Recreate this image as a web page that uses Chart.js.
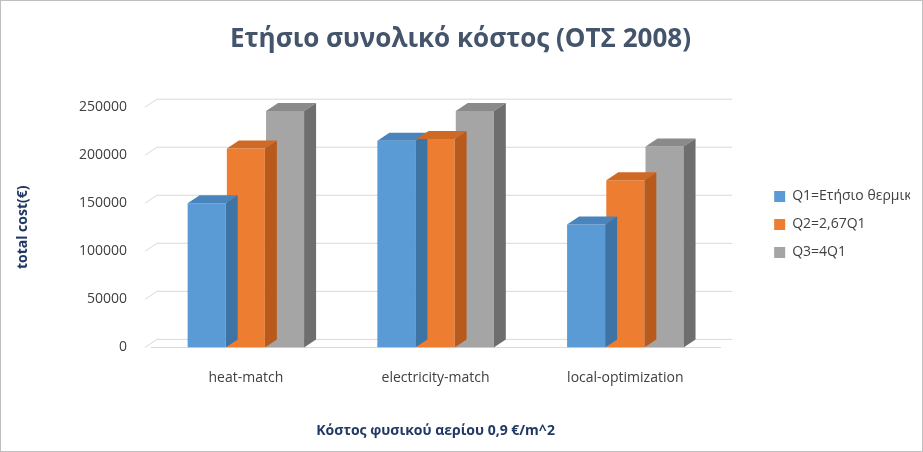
<!DOCTYPE html>
<html><head><meta charset="utf-8">
<script src="https://cdn.jsdelivr.net/npm/chart.js@4/dist/chart.umd.min.js"></script>
<style>html,body{margin:0;padding:0;background:#fff}#w{width:921px;height:450px;border:1px solid #bfbfbf}</style>
</head><body><div id="w"><canvas id="c" width="921" height="450"></canvas></div>
<script>
const categories = ["heat-match","electricity-match","local-optimization"];
const seriesNames = ["Q1=Ετήσιο θερμικο φορτίο","Q2=2,67Q1","Q3=4Q1"];
const q1 = [150000, 215000, 128000];
const q2 = [207000, 217000, 174000];
const q3 = [246000, 246000, 209000];
const colors = ["#5B9BD5","#ED7D31","#A5A5A5"];
const sides = ["#3E73A6","#B85A1C","#6E6E6E"];
const tops = ["#4A84BD","#CF6A26","#8A8A8A"];
const DX=12, DY=-8;
const threeD = {
  id:'threeD',
  beforeDatasetsDraw(chart){
    const {ctx, chartArea:a} = chart;
    ctx.save();
    ctx.strokeStyle='#d9d9d9';ctx.lineWidth=1;
    chart.scales.y.ticks.forEach(t=>{
      const y=chart.scales.y.getPixelForValue(t.value);
      ctx.beginPath();ctx.moveTo(a.left-6,y);ctx.lineTo(a.left+DX-6,y+DY);ctx.lineTo(a.right+DX,y+DY);ctx.stroke();
    });
    ctx.restore();
  },
  afterDatasetsDraw(chart){
    const ctx=chart.ctx;
    chart.data.datasets.forEach((ds,i)=>{
      chart.getDatasetMeta(i).data.forEach(b=>{
        const l=b.x-b.width/2, r=b.x+b.width/2, t=b.y, bt=b.base;
        ctx.fillStyle=tops[i];
        ctx.beginPath();ctx.moveTo(l,t);ctx.lineTo(l+DX,t+DY);ctx.lineTo(r+DX,t+DY);ctx.lineTo(r,t);ctx.closePath();ctx.fill();
        ctx.fillStyle=sides[i];
        ctx.beginPath();ctx.moveTo(r,t);ctx.lineTo(r+DX,t+DY);ctx.lineTo(r+DX,bt+DY);ctx.lineTo(r,bt);ctx.closePath();ctx.fill();
      });
    });
  }
};
new Chart(document.getElementById('c'),{
  type:'bar',
  data:{labels:categories,datasets:[q1,q2,q3].map((d,i)=>({label:seriesNames[i],data:d,backgroundColor:colors[i],borderWidth:0}))},
  plugins:[threeD],
  options:{
    responsive:false,animation:false,
    layout:{padding:{left:10,right:12,top:5,bottom:8}},
    datasets:{bar:{categoryPercentage:0.62,barPercentage:0.97}},
    plugins:{
      title:{display:true,text:"Ετήσιο συνολικό κόστος (ΟΤΣ 2008)",color:"#44546A",font:{family:"Open Sans",size:26,weight:'bold'},padding:{top:18,bottom:52}},
      legend:{position:'right',labels:{boxWidth:11,boxHeight:11,color:'#404040',font:{family:'Open Sans',size:14},padding:14}},
      tooltip:{enabled:false}
    },
    scales:{
      x:{grid:{display:false},border:{color:'#d9d9d9'},ticks:{color:'#404040',font:{family:'Open Sans',size:14},padding:14},
         title:{display:true,text:"Κόστος φυσικού αερίου 0,9 €/m^2",color:'#1F3864',font:{family:'Open Sans',size:14,weight:'bold'},padding:{top:22}}},
      y:{min:0,max:250000,afterFit:s=>{s.width=140;},
         ticks:{stepSize:50000,color:'#404040',font:{family:'Open Sans',size:14},padding:16,callback:v=>String(v)},
         grid:{display:false},border:{display:false},
         title:{display:true,text:"total cost(€)",color:'#1F3864',font:{family:'Open Sans',size:14,weight:'bold'},padding:{bottom:24}}},
      y2:{position:'right',display:true,afterFit:s=>{s.width=40;},ticks:{display:false},grid:{display:false},border:{display:false}}
    }
  }
});
</script></body></html>
